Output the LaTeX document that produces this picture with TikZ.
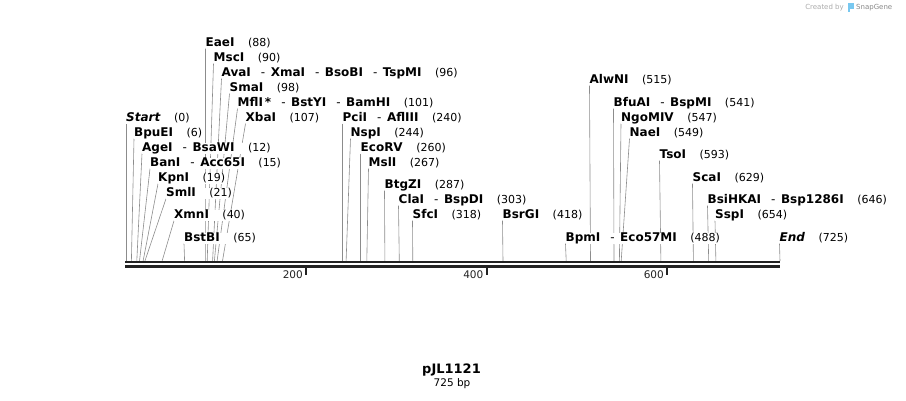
\documentclass[tikz,border=0pt]{standalone}
\usepackage{fontspec}
\setmainfont{DejaVu Sans}
\usetikzlibrary{backgrounds}

\newcommand{\enzsep}{\hspace{10pt}{\mdseries -}\hspace{5.5pt}}
\newcommand{\cutpos}[1]{\hspace{13.5pt}{\mdseries\upshape\fontsize{11}{13}\selectfont (#1)}}

\begin{document}
\begin{tikzpicture}[x=1pt,y=-1pt,
  enz/.style={anchor=base west,inner sep=0pt,fill=white,text=black,
    text height=8.5pt,text depth=2.5pt,font=\fontsize{12}{14}\selectfont\bfseries},
  lead/.style={draw=leadColor,line width=0.6pt},
  bar/.style={draw=barColor,line cap=butt},
  tick/.style={draw=barColor,line width=2pt},
  ticklabel/.style={anchor=base east,inner sep=0pt,text=barColor,font=\fontsize{10.5}{12}\selectfont},
  credit/.style={inner sep=0pt,text=creditColor,font=\fontsize{7}{8}\selectfont}]
\definecolor{leadColor}{RGB}{140,140,140}
\definecolor{barColor}{RGB}{34,34,34}
\definecolor{creditColor}{RGB}{170,170,170}
\definecolor{logoColor}{RGB}{120,200,240}
\path[use as bounding box] (0,0) rectangle (906,400);

% cut sites on the backbone
\coordinate (p0) at (126.0,261);
\coordinate (p6) at (131.4,261);
\coordinate (p12) at (136.8,261);
\coordinate (p15) at (139.5,261);
\coordinate (p19) at (143.1,261);
\coordinate (p21) at (144.9,261);
\coordinate (p40) at (162.1,261);
\coordinate (p65) at (184.6,261);
\coordinate (p88) at (205.4,261);
\coordinate (p90) at (207.2,261);
\coordinate (p96) at (212.6,261);
\coordinate (p98) at (214.4,261);
\coordinate (p101) at (217.1,261);
\coordinate (p107) at (222.5,261);
\coordinate (p240) at (342.5,261);
\coordinate (p244) at (346.1,261);
\coordinate (p260) at (360.5,261);
\coordinate (p267) at (366.8,261);
\coordinate (p287) at (384.9,261);
\coordinate (p303) at (399.3,261);
\coordinate (p318) at (412.8,261);
\coordinate (p418) at (503.0,261);
\coordinate (p488) at (566.2,261);
\coordinate (p515) at (590.5,261);
\coordinate (p541) at (614.0,261);
\coordinate (p547) at (619.4,261);
\coordinate (p549) at (621.2,261);
\coordinate (p593) at (660.9,261);
\coordinate (p629) at (693.4,261);
\coordinate (p646) at (708.7,261);
\coordinate (p654) at (715.9,261);
\coordinate (p725) at (780.0,261);

% enzyme labels
\node[enz] (start) at (126,121) {\textit{Start}\cutpos{0}};
\node[enz] (eaei) at (205.5,46) {EaeI\cutpos{88}};
\node[enz] (msci) at (213.5,61) {MscI\cutpos{90}};
\node[enz] (avai) at (221.5,76) {AvaI\enzsep XmaI\enzsep BsoBI\enzsep TspMI\cutpos{96}};
\node[enz] (smai) at (229.5,91) {SmaI\cutpos{98}};
\node[enz] (mfli) at (237.5,106) {MflI\,*\enzsep BstYI\enzsep BamHI\cutpos{101}};
\node[enz] (xbai) at (245.5,121) {XbaI\cutpos{107}};
\node[enz] (bpuei) at (134,136) {BpuEI\cutpos{6}};
\node[enz] (agei) at (142,151) {AgeI\enzsep BsaWI\cutpos{12}};
\node[enz] (bani) at (150,166) {BanI\enzsep Acc65I\cutpos{15}};
\node[enz] (kpni) at (158,181) {KpnI\cutpos{19}};
\node[enz] (smli) at (166,196) {SmlI\cutpos{21}};
\node[enz] (xmni) at (174,218) {XmnI\cutpos{40}};
\node[enz] (bstbi) at (184,241) {BstBI\cutpos{65}};
\node[enz] (pcii) at (342.5,121) {PciI\enzsep AflIII\cutpos{240}};
\node[enz] (nspi) at (350.5,136) {NspI\cutpos{244}};
\node[enz] (ecorv) at (360.5,151) {EcoRV\cutpos{260}};
\node[enz] (msli) at (368.5,166) {MslI\cutpos{267}};
\node[enz] (btgzi) at (384.5,188) {BtgZI\cutpos{287}};
\node[enz] (clai) at (398.5,203) {ClaI\enzsep BspDI\cutpos{303}};
\node[enz] (sfci) at (412.5,218) {SfcI\cutpos{318}};
\node[enz] (bsrgi) at (502.5,218) {BsrGI\cutpos{418}};
\node[enz] (bpmi) at (565.5,241) {BpmI\enzsep Eco57MI\cutpos{488}};
\node[enz] (alwni) at (589.5,83) {AlwNI\cutpos{515}};
\node[enz] (bfuai) at (613.5,106) {BfuAI\enzsep BspMI\cutpos{541}};
\node[enz] (ngomiv) at (621,121) {NgoMIV\cutpos{547}};
\node[enz] (naei) at (629.5,136) {NaeI\cutpos{549}};
\node[enz] (tsoi) at (659.5,158) {TsoI\cutpos{593}};
\node[enz] (scai) at (692.5,181) {ScaI\cutpos{629}};
\node[enz] (bsihkai) at (707.5,203) {BsiHKAI\enzsep Bsp1286I\cutpos{646}};
\node[enz] (sspi) at (715,218) {SspI\cutpos{654}};
\node[enz] (end) at (779.5,241) {\textit{End}\cutpos{725}};

% leader lines, behind the labels
\begin{pgfonlayer}{background}
\draw[lead] (start.south west) -- (p0);
\draw[lead] (bpuei.south west) -- (p6);
\draw[lead] (agei.south west) -- (p12);
\draw[lead] (bani.south west) -- (p15);
\draw[lead] (kpni.south west) -- (p19);
\draw[lead] (smli.south west) -- (p21);
\draw[lead] (xmni.south west) -- (p40);
\draw[lead] (bstbi.south west) -- (p65);
\draw[lead] (eaei.south west) -- (p88);
\draw[lead] (msci.south west) -- (p90);
\draw[lead] (avai.south west) -- (p96);
\draw[lead] (smai.south west) -- (p98);
\draw[lead] (mfli.south west) -- (p101);
\draw[lead] (xbai.south west) -- (p107);
\draw[lead] (pcii.south west) -- (p240);
\draw[lead] (nspi.south west) -- (p244);
\draw[lead] (ecorv.south west) -- (p260);
\draw[lead] (msli.south west) -- (p267);
\draw[lead] (btgzi.south west) -- (p287);
\draw[lead] (clai.south west) -- (p303);
\draw[lead] (sfci.south west) -- (p318);
\draw[lead] (bsrgi.south west) -- (p418);
\draw[lead] (bpmi.south west) -- (p488);
\draw[lead] (alwni.south west) -- (p515);
\draw[lead] (bfuai.south west) -- (p541);
\draw[lead] (ngomiv.south west) -- (p547);
\draw[lead] (naei.south west) -- (p549);
\draw[lead] (tsoi.south west) -- (p593);
\draw[lead] (scai.south west) -- (p629);
\draw[lead] (bsihkai.south west) -- (p646);
\draw[lead] (sspi.south west) -- (p654);
\draw[lead] (end.south west) -- (p725);
\end{pgfonlayer}

% backbone and ruler
\draw[bar,line width=2pt] (125,262) -- (780,262);
\draw[bar,line width=3pt] (125,266.5) -- (780,266.5);
\draw[tick] (306.4,268) -- (306.4,275);
\draw[tick] (486.8,268) -- (486.8,275);
\draw[tick] (667.2,268) -- (667.2,275);
\node[ticklabel] (t200) at (303,278.5) {200};
\node[ticklabel] (t400) at (483.5,278.5) {400};
\node[ticklabel] (t600) at (664,278.5) {600};

% title
\node[anchor=base,inner sep=0pt,font=\fontsize{13}{15}\selectfont\bfseries] (name) at (451.5,373) {pJL1121};
\node[anchor=base,inner sep=0pt,font=\fontsize{10.5}{12}\selectfont] (size) at (452,386.5) {725 bp};

% watermark
\node[credit,anchor=east] (created) at (844,7.5) {Created by};
\fill[logoColor] (847.5,3) rectangle (850,12);
\fill[logoColor] (850,3) rectangle (853.5,8.5);
\node[credit,anchor=west,text=creditColor!80!black] (snapgene) at (856,7.5) {SnapGene};
\end{tikzpicture}
\end{document}
